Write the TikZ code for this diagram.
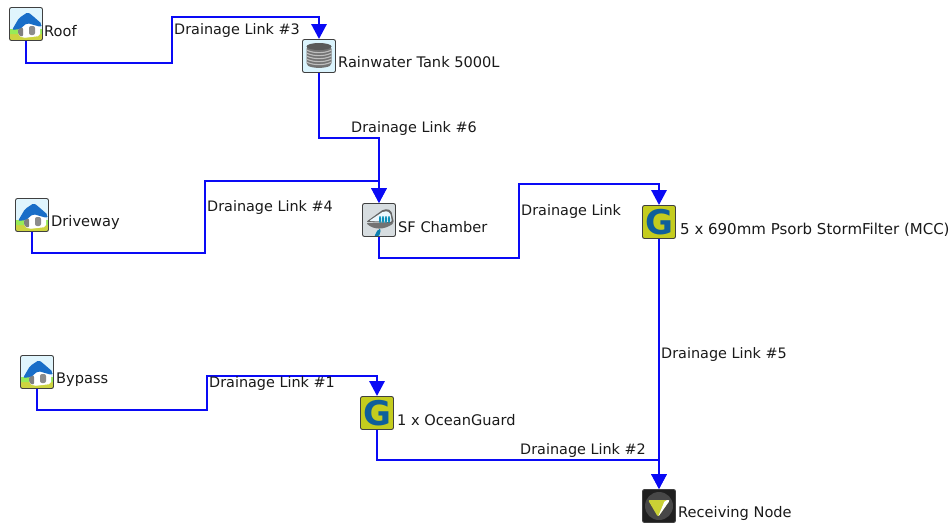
\documentclass[tikz,border=0pt]{standalone}
\usepackage{fontspec}
\usepackage{xcolor}
\setmainfont{DejaVu Sans}
\usetikzlibrary{arrows.meta}
\definecolor{linkblue}{RGB}{10,10,245}
\definecolor{gyellow}{RGB}{196,204,30}
\definecolor{gblue}{RGB}{15,95,155}
\definecolor{roofblue}{RGB}{25,110,200}
\tikzset{
  iconbox/.style={draw=black!75,rounded corners=2pt,line width=0.9pt,minimum size=33pt,inner sep=0pt},
  housebox/.style={iconbox,fill=cyan!12,path picture={
    \begin{scope}[shift={(path picture bounding box.center)}]
      \fill[gyellow!85!white] (-18,8) rectangle (18,18);
      \fill[green!45!gyellow!70!white] (-18,5) rectangle (18,10);
      \fill[white] (-8,3) -- (1,-5) -- (14,0) -- (14,12) -- (-3,14) -- (-8,11) -- cycle;
      \fill[black!50] (-8,4) -- (-3,3) -- (-3,13) -- (-8,11) -- cycle;
      \fill[black!45] (3,2) rectangle (9,11);
      \fill[roofblue] (-14,6) -- (-7,-6) -- (2,-12) -- (8,-7) -- (16,0) -- (15,3) -- (1,-1) -- (-6,5) -- cycle;
    \end{scope}}},
  tankbox/.style={iconbox,fill=cyan!14,path picture={
    \begin{scope}[shift={(path picture bounding box.center)}]
      \fill[black!55] (-12.5,-9) -- (-12.5,9) .. controls (-6,12.5) and (6,12.5) .. (12.5,9) -- (12.5,-9) -- cycle;
      \fill[black!65] (0,-9.5) ellipse (12.5 and 3.5);
      \foreach \ribY in {-6,-3,0,3,6}
        \draw[black!25,line width=1.1pt] (-12.5,\ribY) .. controls (-6,\ribY+3.5) and (6,\ribY+3.5) .. (12.5,\ribY);
    \end{scope}}},
  sfbox/.style={iconbox,fill=cyan!25!black!18,path picture={
    \begin{scope}[shift={(path picture bounding box.center)}]
      \fill[black!60] (-13,2) -- (5,-11) -- (12,-10) -- (15,3) -- cycle;
      \fill[cyan!8] (-10,1) -- (5,-9) -- (11,-8) -- (13,2) -- cycle;
      \foreach \barX in {0,3,6,9}
        \fill[gblue!70!cyan] (\barX,-4) rectangle ++(2,7);
      \fill[black!55] (-13,3) .. controls (-5,10) and (5,10) .. (15,3) -- cycle;
      \fill[gblue!80!cyan] (-1,9) -- (2,9) -- (0,17) -- (-5,17) -- cycle;
    \end{scope}}},
  gbox/.style={iconbox,fill=gyellow,text=gblue,font=\fontsize{34}{34}\selectfont\bfseries},
  outbox/.style={iconbox,fill=black!88,path picture={
    \begin{scope}[shift={(path picture bounding box.center)}]
      \fill[black!72] (0,0) circle (14);
      \fill[gyellow!90!white] (-11,-6) -- (11,-6) -- (-1,11) -- cycle;
      \fill[white] (11,-6) -- (6,-6) -- (-1,11) -- cycle;
    \end{scope}}},
  nodelabel/.style={anchor=west,inner sep=0pt,font=\fontsize{14.6}{17}\selectfont,text=black!90},
  link/.style={draw=linkblue,line width=2.9pt,-{Triangle[length=15pt,width=15pt]}},
  linklabel/.style={nodelabel,font=\fontsize{14.4}{17}\selectfont}
}
\begin{document}
\begin{tikzpicture}[x=1pt,y=-1pt]
  \useasboundingbox (0,0) rectangle (952,523);
  % icons
  \node[housebox] (roof) at (26,24) {};
  \node[tankbox] (tank) at (319,56) {};
  \node[housebox] (driveway) at (32,215) {};
  \node[sfbox] (chamber) at (379,220) {};
  \node[gbox] (filter) at (659,222) {G};
  \node[housebox] (bypass) at (37,372) {};
  \node[gbox] (guard) at (377,413) {G};
  \node[outbox] (outlet) at (659,506) {};
  % names
  \node[nodelabel] (roofname) at (44,31.5) {Roof};
  \node[nodelabel] (tankname) at (338,62) {Rainwater Tank 5000L};
  \node[nodelabel] (drivewayname) at (51,222.5) {Driveway};
  \node[nodelabel] (chambername) at (398,227) {SF Chamber};
  \node[nodelabel,font=\fontsize{15}{17}\selectfont] (filtername) at (680,229.5) {5 x 690mm Psorb StormFilter (MCC)};
  \node[nodelabel] (bypassname) at (56,379.5) {Bypass};
  \node[nodelabel] (guardname) at (397,420.5) {1 x OceanGuard};
  \node[nodelabel] (outletname) at (678,513.5) {Receiving Node};
  % links
  \draw[link] (roof.south) |- (172,63) -- (172,17) -| (tank.north);
  \draw[link] (tank.south) |- (379,138) -- (chamber.north);
  \draw[link] (driveway.south) |- (205,253) -- (205,181) -| (chamber.north);
  \draw[link] (chamber.south) |- (519,258) -- (519,184) -| (filter.north);
  \draw[link] (filter.south) -- (outlet.north);
  \draw[link] (bypass.south) |- (207,410) -- (207,376) -| (guard.north);
  \draw[link] (guard.south) |- (659,460) -- (outlet.north);
  % link names
  \node[linklabel] (link3) at (174,31) {Drainage Link \#3};
  \node[linklabel] (link6) at (351,129) {Drainage Link \#6};
  \node[linklabel] (link4) at (207,207.5) {Drainage Link \#4};
  \node[linklabel] (linkplain) at (521,211.5) {Drainage Link};
  \node[linklabel] (link5) at (661,355) {Drainage Link \#5};
  \node[linklabel] (link1) at (209,384) {Drainage Link \#1};
  \node[linklabel] (link2) at (520,451) {Drainage Link \#2};
\end{tikzpicture}
\end{document}
